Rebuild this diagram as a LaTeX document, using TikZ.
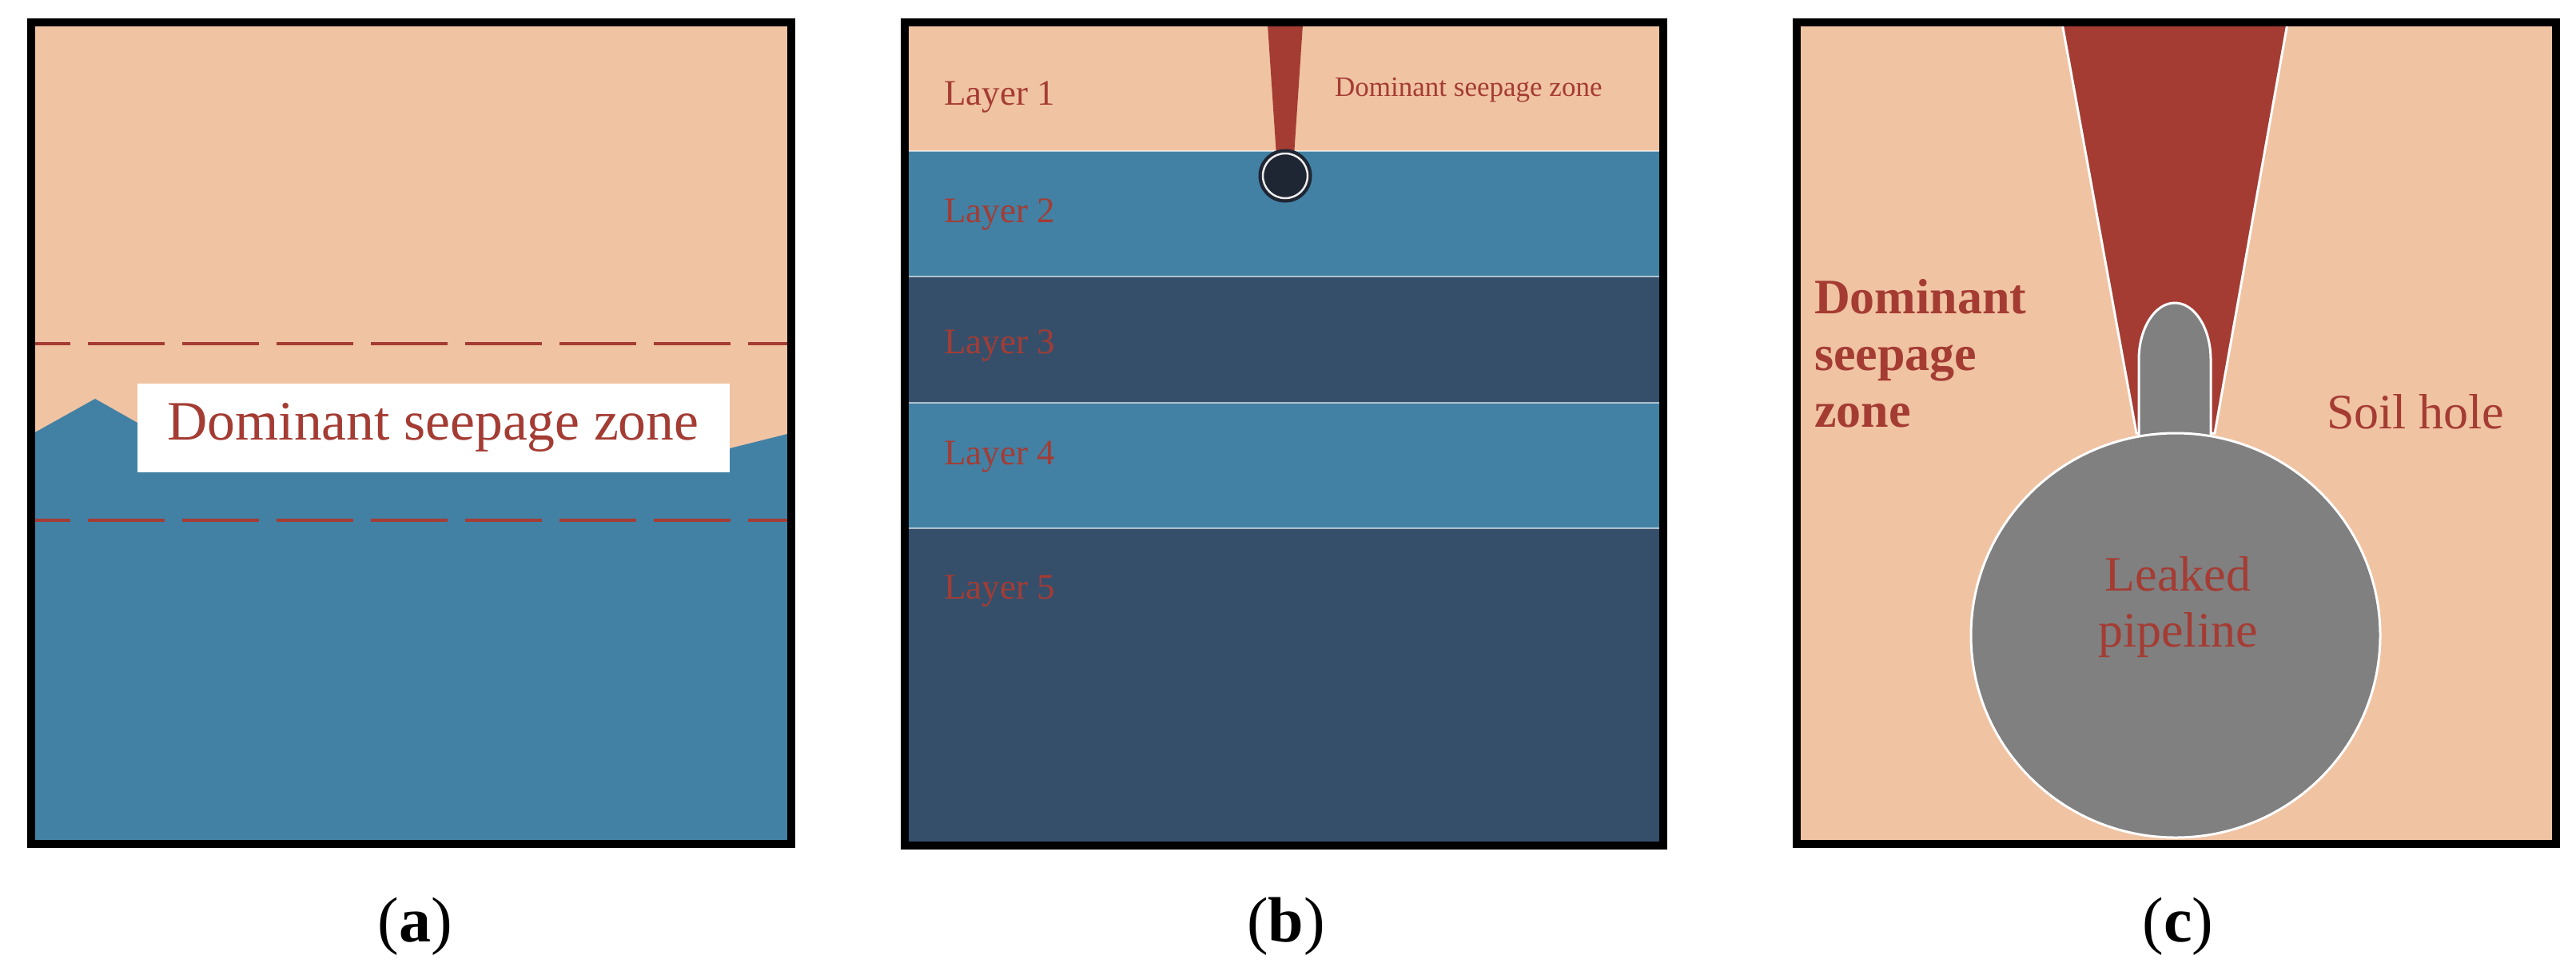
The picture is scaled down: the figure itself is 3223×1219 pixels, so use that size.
\documentclass[tikz,border=0pt]{standalone}
\usepackage{fontspec}
\setmainfont{Liberation Serif}
\usetikzlibrary{shapes.geometric}
\definecolor{peach}{HTML}{F0C3A3}
\definecolor{sblue}{HTML}{4281A4}
\definecolor{sdark}{HTML}{354F6B}
\definecolor{sred}{HTML}{A43C34}
\definecolor{pipe}{HTML}{1F2633}
\definecolor{grayp}{HTML}{808080}
\tikzset{
  frame/.style={draw=black,line width=10pt},
  sep/.style={draw=white,line width=2pt,opacity=0.6},
  lbl/.style={inner sep=0pt,anchor=base west,text=sred},
  captxt/.style={inner sep=0pt,anchor=base,font=\fontsize{80}{90}\selectfont},
  seepline/.style={sred,line width=4pt,dash pattern=on 96pt off 22pt,dash phase=50pt},
}
\begin{document}
\begin{tikzpicture}[x=1pt,y=-1pt]
\useasboundingbox (0,0) rectangle (3223,1219);
% ---------- panel a
\fill[peach] (42,31) rectangle (985,1053);
\fill[sblue] (42,542) -- (119,499) -- (172,529) -- (913,561) -- (985,543) -- (985,1053) -- (42,1053) -- cycle;
\draw[seepline] (42,430) -- (985,430);
\draw[seepline] (42,651) -- (985,651);
\fill[white] (172,480) rectangle (913,591);
\node[inner sep=0pt,anchor=base,text=sred,font=\fontsize{69.6}{80}\selectfont] (ta) at (542,550) {Dominant seepage zone};
\draw[frame] (39,28) rectangle (990,1056);
\node[captxt] (capa) at (519,1178) {(\textbf{a})};
% ---------- panel b
\fill[peach] (1135,31) rectangle (2077,189);
\fill[sblue] (1135,189) rectangle (2077,346);
\fill[sdark] (1135,346) rectangle (2077,504);
\fill[sblue] (1135,504) rectangle (2077,661);
\fill[sdark] (1135,661) rectangle (2077,1053);
\foreach \yy in {189,346,504,661}{\draw[sep] (1135,\yy) -- (2077,\yy);}
\fill[sred] (1586,31) -- (1630,31) -- (1619,195) -- (1597,195) -- cycle;
\node[circle,fill=pipe,draw=pipe,line width=1pt,minimum size=66pt,inner sep=0pt] (pb) at (1608,220) {};
\draw[white!85!gray,line width=2.5pt] (pb.center) circle (28);
\node[lbl,font=\fontsize{45}{50}\selectfont] (l1) at (1181,131) {Layer 1};
\node[lbl,font=\fontsize{45}{50}\selectfont] (l2) at (1181,278) {Layer 2};
\node[lbl,font=\fontsize{45}{50}\selectfont] (l3) at (1181,442) {Layer 3};
\node[lbl,font=\fontsize{45}{50}\selectfont] (l4) at (1181,581) {Layer 4};
\node[lbl,font=\fontsize{45}{50}\selectfont] (l5) at (1181,749) {Layer 5};
\node[lbl,font=\fontsize{35}{40}\selectfont] (tb) at (1670,120) {Dominant seepage zone};
\draw[frame] (1132,28) rectangle (2081,1058);
\node[captxt] (capb) at (1609,1178) {(\textbf{b})};
% ---------- panel c
\fill[peach] (2251,31) rectangle (3195,1051);
\draw[white,line width=3pt,fill=sred] (2580,29) -- (2862,29) -- (2771,542) -- (2673,542) -- cycle;
\draw[white,line width=3pt,fill=grayp] (2676,548) -- (2676,450) arc[start angle=180,end angle=360,x radius=45,y radius=71] -- (2766,548);
\node[ellipse,draw=white,line width=3pt,fill=grayp,minimum width=512pt,minimum height=506pt,inner sep=0pt] (pc) at (2722,795) {};
\node[inner sep=0pt,text=sred,align=center,font=\fontsize{62}{70}\selectfont,anchor=base] (tl) at (2725,809) {Leaked\\pipeline};
\node[lbl,align=left,font=\bfseries\fontsize{62}{71}\selectfont] (tc) at (2270,534) {Dominant\\seepage\\zone};
\node[lbl,font=\fontsize{62}{70}\selectfont] (sh) at (2911,536) {Soil hole};
\draw[frame] (2248,28) rectangle (3198,1056);
\node[captxt] (capc) at (2725,1178) {(\textbf{c})};
\end{tikzpicture}
\end{document}
